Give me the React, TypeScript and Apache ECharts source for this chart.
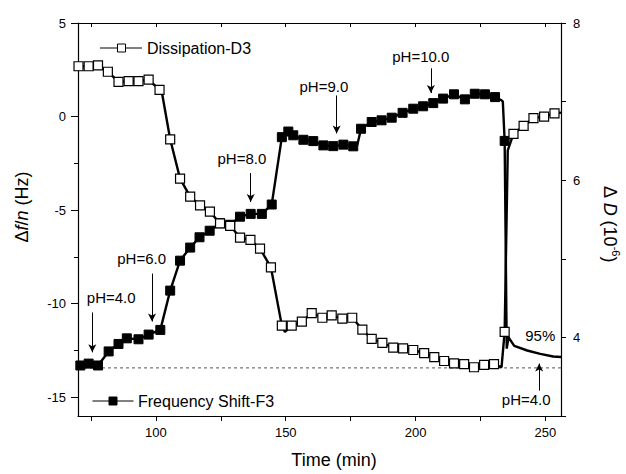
import React, { useEffect, useRef } from "react";
import * as echarts from "echarts";

const FONT = "'Liberation Sans', Arial, Helvetica, sans-serif";

// Frequency shift F3 (Hz) – left axis
const freqTime = [
  70, 70.9, 74.1, 77.7, 81.8, 85.6, 88.8, 93.3, 97.2, 101.7,
  105.5, 109.3, 113.2, 116.8, 120.7, 124.7, 128.6, 132.4, 136.5, 140.8,
  144.6, 148.5, 151, 152.9, 156.8, 160.6, 164.5, 168.3, 172.2, 176,
  177.5, 179, 183.1, 186.9, 190.8, 195, 199.1, 202.9, 206.8, 210.6,
  214.8, 219, 222.8, 226.7, 230.6, 233.1, 233.6, 234.3, 235.1, 235.8,
  238, 243, 248, 253, 256,
];
const freqShift = [
  -13.35, -13.3, -13.2, -13.3, -12.55, -12.15, -11.85, -11.9, -11.65, -11.4,
  -9.3, -7.7, -7.0, -6.45, -6.1, -5.7, -5.78, -5.35, -5.2, -5.2,
  -4.7, -1.1, -0.8, -1.0, -1.24, -1.31, -1.54, -1.58, -1.5, -1.59,
  -1.55, -0.65, -0.29, -0.2, -0.06, 0.2, 0.42, 0.55, 0.72, 0.96,
  1.19, 0.92, 1.22, 1.19, 1.04, 0.87, 0.8, -1.3, -12.4, -11.8,
  -12.25, -12.5, -12.68, -12.82, -12.85,
];
const freqNoMarker = [70, 177.5, 233.1, 233.6, 235.1, 235.8, 238, 243, 248, 253, 256];

// Dissipation D3 (1e-6) – right axis
const dissTime = [
  70.2, 74.1, 77.7, 81.5, 85.6, 89.5, 93.3, 97.2, 101.4, 102.5,
  105.5, 109.3, 113.2, 117, 120.8, 124.7, 128.6, 132.4, 136.4, 140.1,
  144.3, 148.5, 149.7, 152.3, 156.2, 160, 164.1, 167.7, 171.8, 175.6,
  179.5, 183.1, 187.2, 191.4, 195.2, 199.1, 203.3, 207.2, 211, 214.8,
  218.7, 222.5, 226.4, 230.2, 233.1, 234.3, 235.5, 237.7, 241.6, 245.4,
  249.5, 253.5, 256,
];
const dissValue = [
  7.45, 7.45, 7.46, 7.38, 7.25, 7.26, 7.26, 7.28, 7.15, 7.08,
  6.52, 6.02, 5.79, 5.68, 5.6, 5.45, 5.42, 5.27, 5.24, 5.13,
  4.89, 4.15, 4.07, 4.15, 4.2, 4.31, 4.25, 4.28, 4.24, 4.25,
  4.1, 3.98, 3.93, 3.87, 3.86, 3.84, 3.8, 3.75, 3.7, 3.67,
  3.66, 3.62, 3.65, 3.66, 3.62, 4.07, 6.38, 6.59, 6.69, 6.79,
  6.81, 6.85, 6.86,
];
const dissNoMarker = [102.5, 149.7, 233.1, 235.5, 256];

// Axis ticks
const xMajorTicks = [100, 150, 200, 250];
const xAllTicks = [75, 100, 125, 150, 175, 200, 225, 250];
const fMajorTicks = [-15, -10, -5, 0, 5];
const fMinorTicks = [-12.5, -7.5, -2.5, 2.5];
const dLabelTicks = [4, 6, 8];
const dAllTicks = [3, 4, 5, 6, 7, 8];

// Annotations (pH changes)
const arrowTime = [75.5, 98.5, 136.5, 169.6, 205.9, 247.6];
const arrowFrom = [-10.47, -8.39, -3.02, 1.13, 2.58, -14.64];
const arrowTo = [-12.6, -10.95, -4.57, -0.9, 1.26, -13.2];
const noteText = ["pH=4.0", "pH=6.0", "pH=8.0", "pH=9.0", "pH=10.0", "95%", "pH=4.0"];
const noteTime = [82.8, 94.5, 133.1, 164.7, 202, 248, 242.6];
const noteValue = [-9.67, -7.58, -2.24, 1.63, 3.22, -11.7, -15.12];
const baselineTime = [70, 256];
const baselineShift = [-13.43, -13.43];

function buildData(times: number[], values: number[], plain: number[]) {
  return times.map((t, i) =>
    plain.includes(t) ? { value: [t, values[i]], symbol: "none" } : [t, values[i]]
  );
}

export default function App() {
  const ref = useRef<HTMLDivElement>(null);

  useEffect(() => {
    if (!ref.current) return;
    const chart = echarts.init(ref.current, undefined, { renderer: "svg" });

    const axisLine = { show: true, onZero: false, lineStyle: { color: "#000", width: 1.2 } };
    const labelStyle = { color: "#000", fontSize: 13, fontFamily: FONT };

    const option: any = {
      animation: false,
      backgroundColor: "#fff",
      grid: { left: 78, right: 65, top: 23, bottom: 58, containLabel: false },
      xAxis: [
        {
          type: "value",
          position: "bottom",
          min: 70,
          max: 256,
          axisLine,
          axisTick: { show: true, customValues: xAllTicks, length: 5, lineStyle: { color: "#000" } },
          axisLabel: { ...labelStyle, customValues: xMajorTicks, margin: 10 },
          splitLine: { show: false },
        },
        {
          type: "value",
          position: "top",
          min: 70,
          max: 256,
          axisLine,
          axisTick: { show: true, inside: true, customValues: xAllTicks, length: 4, lineStyle: { color: "#000" } },
          axisLabel: { show: false },
          splitLine: { show: false },
        },
      ],
      yAxis: [
        {
          type: "value",
          position: "left",
          min: -16,
          max: 5,
          axisLine,
          axisTick: { show: true, customValues: fMajorTicks, length: 7, lineStyle: { color: "#000" } },
          axisLabel: { ...labelStyle, customValues: fMajorTicks, margin: 12 },
          splitLine: { show: false },
        },
        {
          type: "value",
          position: "right",
          min: 3,
          max: 8,
          axisLine,
          axisTick: { show: true, customValues: dAllTicks, length: 5, lineStyle: { color: "#000" } },
          axisLabel: { ...labelStyle, customValues: dLabelTicks, margin: 12 },
          splitLine: { show: false },
        },
        {
          type: "value",
          position: "left",
          min: -16,
          max: 5,
          axisLine: { show: false, onZero: false },
          axisTick: { show: true, customValues: fMinorTicks, length: 4, lineStyle: { color: "#000" } },
          axisLabel: { show: false },
          splitLine: { show: false },
        },
      ],
      series: [
        {
          name: "baseline",
          type: "line",
          xAxisIndex: 0,
          yAxisIndex: 0,
          data: baselineTime.map((t, i) => [t, baselineShift[i]]),
          symbol: "none",
          silent: true,
          lineStyle: { color: "#555", width: 1, type: [3, 3] },
          z: 1,
        },
        {
          name: "Frequency Shift-F3",
          type: "line",
          xAxisIndex: 0,
          yAxisIndex: 0,
          data: buildData(freqTime, freqShift, freqNoMarker),
          symbol: "rect",
          symbolSize: 9,
          showAllSymbol: true,
          lineStyle: { color: "#000", width: 2.4 },
          itemStyle: { color: "#000", borderColor: "#000", borderWidth: 1 },
          z: 2,
          markLine: {
            silent: true,
            symbol: ["none", "arrow"],
            symbolSize: [6, 8],
            label: { show: false },
            lineStyle: { color: "#000", width: 1, type: "solid" },
            data: arrowTime.map((t, i) => [
              { coord: [t, arrowFrom[i]] },
              { coord: [t, arrowTo[i]] },
            ]),
          },
          markPoint: {
            silent: true,
            symbol: "circle",
            symbolSize: 1,
            itemStyle: { color: "transparent" },
            label: {
              show: true,
              position: "inside",
              formatter: (p: any) => p.name,
              color: "#000",
              fontSize: 15,
              fontFamily: FONT,
            },
            data: noteText.map((txt, i) => ({ name: txt, coord: [noteTime[i], noteValue[i]] })),
          },
        },
        {
          name: "Dissipation-D3",
          type: "line",
          xAxisIndex: 0,
          yAxisIndex: 1,
          data: buildData(dissTime, dissValue, dissNoMarker),
          symbol: "rect",
          symbolSize: 9,
          showAllSymbol: true,
          lineStyle: { color: "#000", width: 2.4 },
          itemStyle: { color: "#fff", borderColor: "#000", borderWidth: 1.2 },
          z: 3,
        },
      ],
      graphic: [
        // legend: Dissipation-D3
        { type: "line", shape: { x1: 100, y1: 48, x2: 142, y2: 48 }, style: { stroke: "#000", lineWidth: 1 } },
        { type: "rect", shape: { x: 117.5, y: 44, width: 8, height: 8 }, style: { fill: "#fff", stroke: "#000", lineWidth: 1 } },
        {
          type: "text",
          x: 147,
          y: 48,
          style: { text: "Dissipation-D3", fontSize: 16, fontFamily: FONT, fill: "#000", verticalAlign: "middle", align: "left" },
        },
        // legend: Frequency Shift-F3
        { type: "line", shape: { x1: 92.5, y1: 401, x2: 133.5, y2: 401 }, style: { stroke: "#000", lineWidth: 1 } },
        { type: "rect", shape: { x: 109, y: 397, width: 8, height: 8 }, style: { fill: "#000", stroke: "#000", lineWidth: 1 } },
        {
          type: "text",
          x: 138,
          y: 401,
          style: { text: "Frequency Shift-F3", fontSize: 16, fontFamily: FONT, fill: "#000", verticalAlign: "middle", align: "left" },
        },
        // x title
        {
          type: "text",
          x: 334,
          y: 460,
          style: { text: "Time (min)", fontSize: 18, fontFamily: FONT, fill: "#000", align: "center", verticalAlign: "middle" },
        },
        // left title
        {
          type: "text",
          x: 22,
          y: 207,
          rotation: Math.PI / 2,
          style: {
            text: "\u0394{i|f}/{i|n} (Hz)",
            fontSize: 18,
            fontFamily: FONT,
            fill: "#000",
            align: "center",
            verticalAlign: "middle",
            rich: { i: { fontStyle: "italic", fontSize: 18, fontFamily: FONT, fill: "#000" } },
          },
        },
        // right title
        {
          type: "text",
          x: 610,
          y: 224,
          rotation: -Math.PI / 2,
          style: {
            text: "\u0394 {i|D} (10{s|-6})",
            fontSize: 18,
            fontFamily: FONT,
            fill: "#000",
            align: "center",
            verticalAlign: "middle",
            rich: {
              i: { fontStyle: "italic", fontSize: 18, fontFamily: FONT, fill: "#000" },
              s: { fontSize: 11, fontFamily: FONT, fill: "#000", verticalAlign: "top", lineHeight: 22 },
            },
          },
        },
      ],
    };

    chart.setOption(option);
    return () => chart.dispose();
  }, []);

  return (
    <div
      ref={ref}
      style={{ position: "absolute", left: 0, top: 0, width: 626, height: 474, background: "#fff" }}
    />
  );
}
